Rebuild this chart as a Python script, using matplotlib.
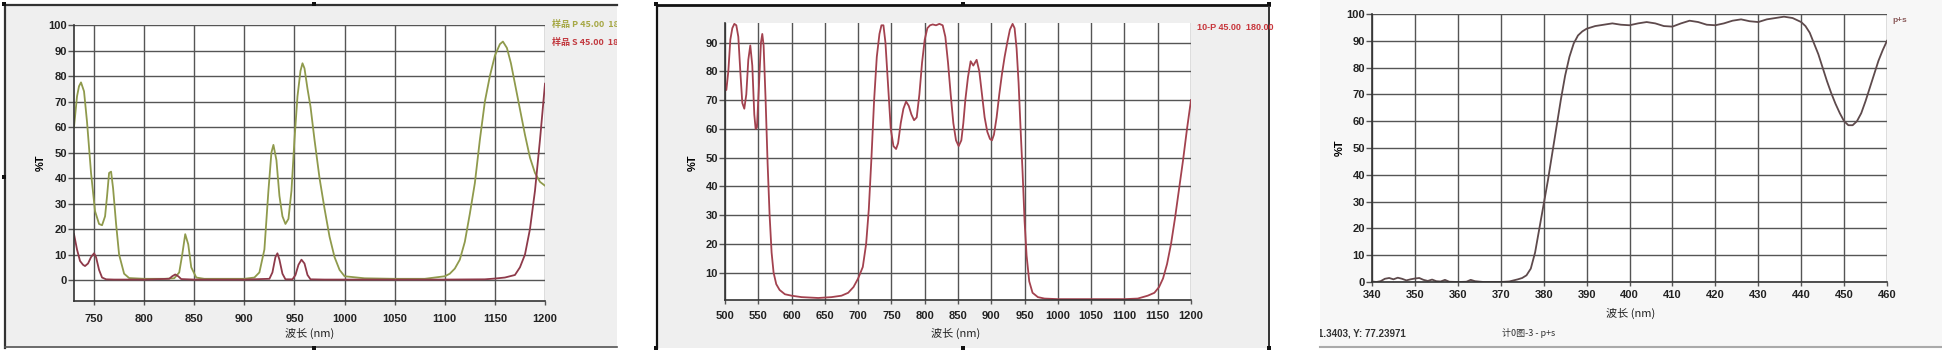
import matplotlib
matplotlib.use("Agg")
import matplotlib.pyplot as plt
from matplotlib.patches import Rectangle
from matplotlib.transforms import Bbox, TransformedBbox

W, H = 1942, 354

# ---- panel 1: 样品 P / 样品 S ----
p1_x = [730, 733, 735, 737, 740, 743, 747, 751, 755, 758, 761, 763, 765, 767, 769, 772, 775, 780, 785,
        800, 820, 830, 835, 838, 841, 844, 847, 852, 860, 880, 900, 910, 915, 920, 924, 927, 929, 932,
        935, 938, 941, 944, 947, 950, 953, 956, 958, 960, 963, 966, 970, 975, 980, 985, 990, 995, 1000,
        1020, 1050, 1080, 1100, 1105, 1110, 1115, 1120, 1125, 1130, 1135, 1140, 1145, 1150, 1155, 1158,
        1162, 1166, 1170, 1175, 1180, 1185, 1190, 1195, 1200]
p1_p = [60, 72, 76, 77.5, 74, 62, 42, 27, 22, 21.5, 25, 33, 42, 42.5, 36, 22, 10, 2.5, 0.8,
        0.5, 0.5, 0.7, 3, 10, 18, 14, 5, 1, 0.5, 0.5, 0.5, 1, 3, 12, 35, 50, 53, 47,
        33, 25, 22, 24, 35, 55, 72, 82, 85, 83, 75, 68, 55, 40, 28, 17, 9, 4, 1.5,
        0.7, 0.5, 0.5, 1.5, 2.5, 4.5, 8, 15, 26, 38, 55, 70, 80, 88, 92.5, 93.5,
        91, 85, 77, 67, 57, 48, 42, 38.5, 37]
p1_sx = [730, 733, 736, 739, 741, 744, 747, 750, 752, 755, 758, 762, 770, 800, 825, 828, 831, 834, 837,
         850, 900, 925, 928, 931, 933, 935, 938, 941, 948, 951, 954, 957, 960, 963, 966, 980, 1050,
         1100, 1140, 1150, 1160, 1165, 1170, 1175, 1180, 1185, 1190, 1195, 1200]
p1_s = [18, 12, 7.5, 6, 5.5, 6.5, 9, 10.5, 9, 4, 1, 0.3, 0.2, 0.2, 0.5, 1.5, 2.2, 1.5, 0.4,
        0.2, 0.2, 0.5, 3, 9, 10.5, 8, 2.5, 0.3, 0.3, 2, 6, 8, 6.5, 2, 0.3, 0.2, 0.2,
        0.2, 0.3, 0.6, 1.0, 1.5, 2, 5, 10, 20, 35, 55, 77]

# ---- panel 2: 10-P ----
p2_x = [500, 502, 505, 508, 511, 514, 517, 520, 523, 526, 529, 532, 535, 538, 541, 544, 546, 548, 551,
        554, 556, 558, 561, 564, 567, 570, 573, 577, 582, 590, 600, 615, 640, 660, 675, 685, 693, 700,
        707, 712, 716, 720, 724, 728, 732, 735, 738, 741, 745, 749, 753, 757, 760, 764, 768, 772, 776,
        780, 784, 788, 792, 796, 800, 804, 808, 812, 817, 822, 827, 831, 835, 839, 843, 847, 851, 855,
        858, 861, 865, 869, 873, 878, 882, 886, 890, 894, 898, 901, 904, 908, 912, 916, 920, 924, 928,
        932, 935, 938, 941, 944, 947, 950, 953, 957, 962, 970, 980, 1000, 1050, 1100, 1120, 1135,
        1145, 1152, 1158, 1164, 1170, 1176, 1182, 1188, 1194, 1200]
p2_y = [76, 73.5, 80, 91, 95, 96.5, 96, 92, 80, 69, 67, 72, 84, 89, 82, 65, 60, 60.5, 75,
        90, 93, 89, 70, 48, 30, 17, 10, 6, 4, 2.5, 2, 1.5, 1.2, 1.5, 2, 3, 5, 8,
        12, 20, 32, 50, 70, 85, 93, 96, 96, 90, 75, 60, 54, 53, 55, 62, 67, 69.5, 68,
        65, 63, 64, 72, 83, 91, 95, 96, 96.3, 96, 96.5, 96, 92, 83, 72, 62, 56, 54, 56,
        62, 70, 78, 83.5, 82, 84, 80, 72, 64, 59, 56.5, 56, 58, 64, 72, 79, 85, 90, 94.5,
        96.5, 95, 88, 76, 60, 45, 28, 16, 7, 3, 1.5, 1, 0.8, 0.8, 0.8, 1, 2,
        3, 5, 8, 13, 20, 29, 39, 49, 60, 70]

# ---- panel 3: p+s ----
p3_x = [340, 341, 342, 343, 344, 345, 346, 347, 348, 349, 350, 351, 352, 353, 354, 355, 356, 357, 358,
        360, 362, 363, 364, 366, 370, 372, 373, 374, 375, 376, 377, 378, 379, 380, 381, 382, 383, 384,
        385, 386, 387, 388, 389, 390, 392, 394, 396, 398, 400, 402, 404, 406, 408, 410, 412, 414, 416,
        418, 420, 422, 424, 426, 428, 430, 432, 434, 436, 438, 440, 441, 442, 443, 444, 445, 446, 447,
        448, 449, 450, 451, 452, 453, 454, 455, 456, 457, 458, 459, 460]
p3_y = [0.2, 0, 0.3, 1.2, 1.5, 1.0, 1.6, 1.2, 0.6, 1.0, 1.3, 1.5, 0.8, 0.4, 0.9, 0.3, 0.2, 0.8, 0.1,
        0, 0.1, 0.8, 0.3, 0, 0, 0.2, 0.6, 1.0, 1.5, 2.5, 5, 11, 20, 29, 38, 48, 58, 68,
        77, 84, 89, 92, 93.5, 94.5, 95.5, 96, 96.5, 96, 95.8, 96.5, 97, 96.5, 95.5, 95.3, 96.5, 97.5, 97,
        96, 95.8, 96.5, 97.5, 98, 97.3, 97, 98, 98.5, 99, 98.5, 97, 95.5, 93, 89, 85, 80, 75, 70.5,
        66.5, 63, 60, 58.5, 58.5, 60, 63, 67.5, 72.5, 77.5, 82.5, 86.5, 90]

TICK_FONT = ["Liberation Sans Narrow", "Liberation Sans", "DejaVu Sans"]
CJK_FONT = ["Noto Sans CJK SC", "DejaVu Sans"]

fig = plt.figure(figsize=(W / 100, H / 100), dpi=100)
fig.patch.set_facecolor("white")


def frac_box(x0, y0, x1, y1):
    return [x0 / W, 1 - y1 / H, (x1 - x0) / W, (y1 - y0) / H]


def rect(x0, y0, x1, y1, zorder=-5, **kw):
    b = frac_box(x0, y0, x1, y1)
    fig.patches.append(Rectangle((b[0], b[1]), b[2], b[3], transform=fig.transFigure,
                                 zorder=zorder, **kw))


def hline(x0, x1, y, c, lw):
    fig.add_artist(plt.Line2D([x0 / W, x1 / W], [1 - y / H, 1 - y / H], color=c, lw=lw,
                              transform=fig.transFigure, zorder=-4))


def vline(x, y0, y1, c, lw):
    fig.add_artist(plt.Line2D([x / W, x / W], [1 - y0 / H, 1 - y1 / H], color=c, lw=lw,
                              transform=fig.transFigure, zorder=-4))


def ftext(x, y, s, clip=None, **kw):
    t = fig.text(x / W, 1 - y / H, s, **kw)
    if clip is not None:
        bb = Bbox([[clip[0] / W, 1 - clip[3] / H], [clip[2] / W, 1 - clip[1] / H]])
        t.set_clip_box(TransformedBbox(bb, fig.transFigure))
        t.set_clip_on(True)
    return t


# screenshot frames
rect(5, 5, 617, 348, facecolor="#efefef", edgecolor="none")
hline(5, 617, 5, "#333333", 1.6)
vline(5, 5, 348, "#333333", 1.6)
hline(5, 617, 347, "#555555", 1.2)
rect(657, 5, 1269, 348, facecolor="#efefef", edgecolor="none")
hline(657, 1269, 5, "#111111", 2.0)
vline(657, 5, 348, "#111111", 1.6)
vline(1269, 5, 348, "#333333", 1.4)
rect(1320, 0, 1942, 348, facecolor="#f7f7f7", edgecolor="none")
hline(1320, 1942, 347, "#aaaaaa", 1.5)
for hx, hy in [(4, 4), (314, 4), (4, 177), (314, 348), (656, 4), (963, 4), (1269, 4), (656, 348), (963, 348), (1269, 348)]:
    rect(hx - 2, hy - 2, hx + 2, hy + 2, zorder=-3, facecolor="#111111", edgecolor="none")


def style_axes(ax, xt, yt, xlim, ylim, xpad):
    ax.set_facecolor("white")
    ax.set_xlim(*xlim)
    ax.set_ylim(*ylim)
    ax.set_xticks(xt)
    ax.set_yticks(yt)
    ax.grid(True, color="#555555", lw=1.0)
    ax.set_axisbelow(True)
    for s in ("top", "right"):
        ax.spines[s].set_visible(False)
    for s in ("left", "bottom"):
        ax.spines[s].set_color("#333333")
        ax.spines[s].set_linewidth(1.2)
    ax.tick_params(axis="y", length=4, width=1.0, color="#555555", pad=1, labelsize=8)
    ax.tick_params(axis="x", length=3, width=1.0, color="#555555", pad=xpad, labelsize=8)
    for lab in ax.get_xticklabels() + ax.get_yticklabels():
        lab.set_family(TICK_FONT)
        lab.set_fontweight("bold")
        lab.set_color("#222222")


# panel 1
ax1 = fig.add_axes(frac_box(74, 25, 545, 301))
ax1.plot(p1_x, p1_p, color="#8f9a4c", lw=1.3)
ax1.plot(p1_sx, p1_s, color="#8e3a4a", lw=1.3)
style_axes(ax1, range(750, 1201, 50), range(0, 101, 10), (730, 1200), (-8.2, 100), 6)
ftext(552, 25, "样品 P 45.00  180.00", clip=(545, 0, 617, 60), family=CJK_FONT, fontsize=6.5,
      color="#a6a845", va="center", fontweight="bold")
ftext(552, 43, "样品 S 45.00  180.00", clip=(545, 0, 617, 60), family=CJK_FONT, fontsize=6.5,
      color="#c23a40", va="center", fontweight="bold")
ftext(41, 163, "%T", family=TICK_FONT, fontsize=8, fontweight="bold", rotation=90, ha="center", va="center")
ftext(310, 333, "波长 (nm)", family=CJK_FONT, fontsize=8, ha="center", va="center", color="#222222")

# panel 2
ax2 = fig.add_axes(frac_box(725, 23, 1191, 300))
ax2.plot(p2_x, p2_y, color="#a3424f", lw=1.3)
style_axes(ax2, range(500, 1201, 50), range(10, 91, 10), (500, 1200), (0.5, 96.8), 5)
ftext(1197, 28, "10-P 45.00  180.00", family=TICK_FONT, fontsize=6.5, color="#c8363c",
      va="center", fontweight="bold")
ftext(693, 163, "%T", family=TICK_FONT, fontsize=8, fontweight="bold", rotation=90, ha="center", va="center")
ftext(956, 333, "波长 (nm)", family=CJK_FONT, fontsize=8, ha="center", va="center", color="#222222")

# panel 3
ax3 = fig.add_axes(frac_box(1372, 14, 1887, 282))
ax3.plot(p3_x, p3_y, color="#5e4a4c", lw=1.3)
style_axes(ax3, range(340, 461, 10), range(0, 101, 10), (340, 460), (0, 100), 3)
ftext(1892, 20, "p+s", family=TICK_FONT, fontsize=6, color="#8a5a5a", va="center", fontweight="bold")
ftext(1340, 148, "%T", family=TICK_FONT, fontsize=8, fontweight="bold", rotation=90, ha="center", va="center")
ftext(1631, 313, "波长 (nm)", family=CJK_FONT, fontsize=8, ha="center", va="center", color="#222222")
ftext(1318, 333, "1.3403, Y: 77.23971", clip=(1320, 300, 1942, 354), family=TICK_FONT, fontsize=7,
      fontweight="bold", va="center", color="#333333")
ftext(1502, 333, "计0图-3 - p+s", family=CJK_FONT, fontsize=6.5, va="center", color="#333333")

fig.savefig("out.png", dpi=100, facecolor=fig.get_facecolor())
